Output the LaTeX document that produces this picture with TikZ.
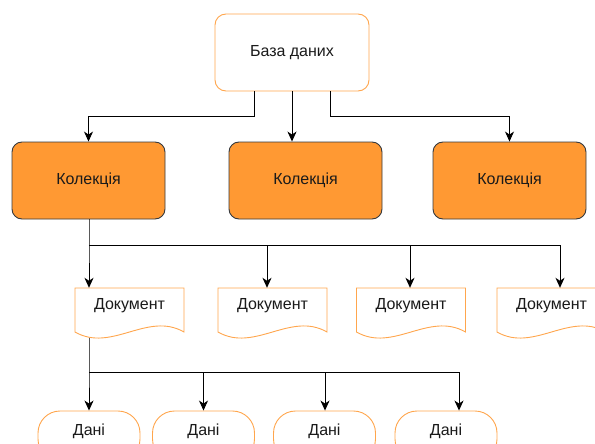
\documentclass[tikz,border=0pt]{standalone}
\usepackage{fontspec}
\setmainfont{Liberation Sans}
\usetikzlibrary{arrows.meta,calc}
\definecolor{dborange}{HTML}{FFA64D}
\definecolor{colfill}{HTML}{FF9933}
\definecolor{coledge}{HTML}{36393D}
\definecolor{txtgray}{HTML}{1A1A1A}

\begin{document}
\begin{tikzpicture}[x=1pt,y=-1pt,>={Stealth[length=10pt,width=9pt,inset=3pt]},
    font=\fontsize{16}{18}\selectfont, text=txtgray,
    dbbox/.style={rectangle,draw=dborange,fill=white,rounded corners=11pt,
                  minimum width=154pt,minimum height=77pt,line width=0.9pt},
    colbox/.style={rectangle,draw=coledge,fill=colfill,rounded corners=10pt,
                   minimum width=153pt,minimum height=77pt,line width=0.9pt},
    docbox/.style={rectangle,minimum width=109pt,minimum height=50pt,inner sep=0pt},
    docline/.style={draw=dborange,fill=white,line width=0.9pt},
    databox/.style={rectangle,draw=dborange,fill=white,rounded corners=22pt,
                    minimum width=102pt,minimum height=50pt,line width=0.9pt},
    link/.style={draw=black,line width=0.9pt}]

  \path[use as bounding box,clip] (0,0) rectangle (595,444);

  \node[dbbox] (db) at (292,52.5) {База даних};

  \node[colbox] (col1) at (88.5,180.5) {Колекція};
  \node[colbox] (col2) at (305.5,180.5) {Колекція};
  \node[colbox] (col3) at (509.5,180.5) {Колекція};

  % documents: outline drawn before the text node
  \foreach \d/\cx in {d1/129.5,d2/272.5,d3/411,d4/551.5} {
    \path[docline] (\cx-54.5,288) -- (\cx+54.5,288) -- (\cx+54.5,332)
      .. controls (\cx+18,311) and (\cx-18,353) .. (\cx-54.5,332) -- cycle;
    \node[docbox] (\d) at (\cx,313) {};
    \node[anchor=center] (\d-txt) at (\cx,306) {Документ};
  }

  \node[databox] (v1) at (89,436) {};
  \node[databox] (v2) at (203.5,436) {};
  \node[databox] (v3) at (324.5,436) {};
  \node[databox] (v4) at (446,436) {};
  \foreach \v in {v1,v2,v3,v4}
    \node (\v-txt) at ($(\v.north)+(0,21)$) {Дані};

  % database to collections
  \draw[link,->] ([xshift=-38pt]db.south) -- ++(0,25) -| (col1.north);
  \draw[link,->] (db.south) -- (db.south |- col2.north);
  \draw[link,->] ([xshift=38pt]db.south) -- ++(0,25) -| (col3.north);

  % collection to documents
  \coordinate (cbus) at ($(col1.south)+(0.5,26)$);
  \draw[link,->] ([xshift=0.5pt]col1.south) -- (cbus) -- (cbus |- d1.north);
  \foreach \d/\s in {d2/-5.5,d3/-1,d4/8.5}
    \draw[link,->] (cbus) -| ([xshift=\s pt]\d.north);

  % document to data
  \coordinate (dtop) at ($(d1.south)+(-40.5,0)$);
  \coordinate (dbus) at ($(dtop)+(0,34)$);
  \draw[link,->] (dtop) -- (dbus) -- (v1.north);
  \foreach \v/\s in {v2/0,v3/0.5,v4/13}
    \draw[link,->] (dbus) -| ([xshift=\s pt]\v.north);
\end{tikzpicture}
\end{document}
